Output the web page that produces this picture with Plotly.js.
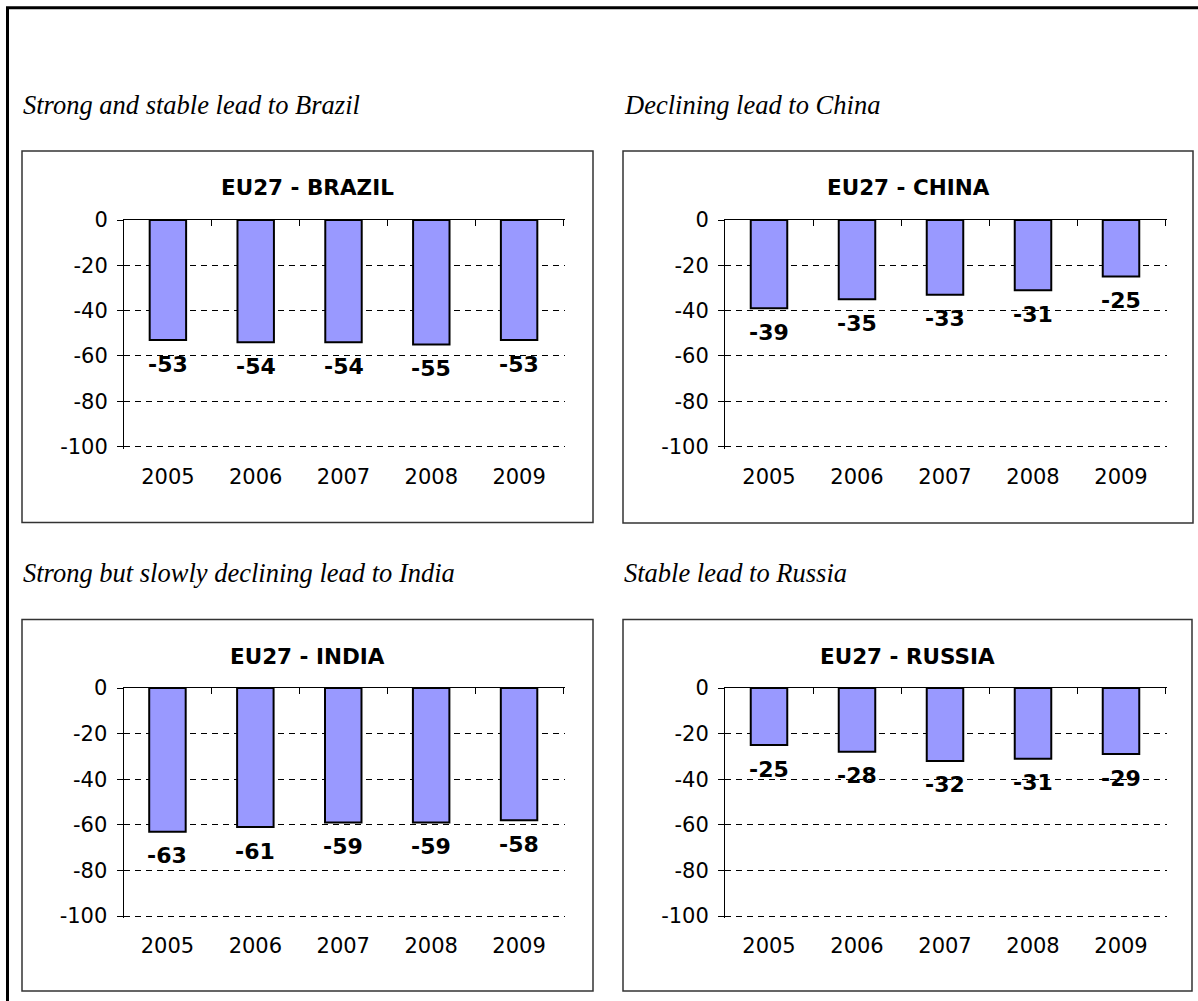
<!DOCTYPE html>
<html>
<head>
<meta charset="utf-8">
<script src="https://cdn.plot.ly/plotly-3.0.1.min.js"></script>
<style>html,body{margin:0;padding:0;background:#fff;}#chart{width:1198px;height:1001px;}</style>
</head>
<body>
<div id="chart"></div>
<script>
// ---- data ----
const years = ['2005', '2006', '2007', '2008', '2009'];
const brazil = [-53, -54, -54, -55, -53];
const china = [-39, -35, -33, -31, -25];
const india = [-63, -61, -59, -59, -58];
const russia = [-25, -28, -32, -31, -29];
const chartTitles = ['EU27 - BRAZIL', 'EU27 - CHINA', 'EU27 - INDIA', 'EU27 - RUSSIA'];
const captions = ['Strong and stable lead to Brazil', 'Declining lead to China',
                  'Strong but slowly declining lead to India', 'Stable lead to Russia'];
const yTicks = [0, -20, -40, -60, -80, -100];
const yTickLabels = ['0', '-20', '-40', '-60', '-80', '-100'];

// ---- layout helpers ----
const W = 1198, H = 1001;
const px = x => x / W;
const py = y => 1 - y / H;

const series = [brazil, china, india, russia];
// panel boxes [x0, y0, x1, y1] in pixels, plot areas [x0, y0(top), x1, y1(bottom)]
const panels = [[22, 151, 593, 522.5], [623, 151, 1193, 523], [22, 619.5, 593, 991], [623, 619.5, 1192, 991]];
const plots = [[124, 220, 563, 446.5], [725, 220, 1165, 446.5], [123.5, 688, 563, 916], [725, 688, 1165, 916]];
const capPos = [[21, 105], [622, 105], [21, 573], [622, 573]];
const XR = [-0.5, 4.52];   // tiny overshoot so the last boundary tick is kept
const YR = [-101, 0];      // tiny overshoot so the -100 grid line is kept

const FONT = 'DejaVu Sans, Verdana, sans-serif';
const data = [];
const layout = {
  width: W, height: H,
  margin: {l: 0, r: 0, t: 0, b: 0},
  paper_bgcolor: '#fff', plot_bgcolor: '#fff',
  showlegend: false,
  font: {family: FONT, color: '#000', size: 21},
  shapes: [], annotations: []
};

// outer frame (top and left visible)
layout.shapes.push({type: 'rect', xref: 'paper', yref: 'paper',
  x0: px(7.5), x1: 1.05, y0: -0.05, y1: py(7.7),
  line: {color: '#000', width: 3}, fillcolor: 'rgba(0,0,0,0)', layer: 'below'});

series.forEach((vals, i) => {
  const n = i + 1;
  const sfx = n === 1 ? '' : String(n);
  const xa = 'x' + sfx, ya = 'y' + sfx, xl = 'x' + (n + 4);
  const p = plots[i], b = panels[i];
  const catW = (p[2] - p[0]) / 5;
  const x1 = p[2] + (XR[1] - 4.5) * catW;
  const hPer = (p[3] - p[1]) / 100;
  const y1 = p[3] + (-100 - YR[0]) * hPer;

  data.push({type: 'bar', x: years, y: vals, xaxis: xa, yaxis: ya, width: 0.415,
    marker: {color: '#9999FF', line: {color: '#000', width: 2}},
    hoverinfo: 'skip'});
  // carrier trace for the category-label axis (draws nothing)
  data.push({type: 'scatter', mode: 'none', x: years, y: vals, xaxis: xl, yaxis: ya, hoverinfo: 'skip'});

  // top axis at y = 0 with boundary ticks pointing into the plot
  layout['xaxis' + sfx] = {domain: [px(p[0]), px(x1)], anchor: ya, type: 'category', side: 'top',
    range: XR, showline: true, linecolor: '#000', linewidth: 1,
    ticks: 'inside', tickson: 'boundaries', ticklen: 6, tickcolor: '#000', tickwidth: 1,
    showticklabels: false, showgrid: false, zeroline: false, fixedrange: true};
  // bottom category labels
  layout['xaxis' + (n + 4)] = {overlaying: xa, anchor: ya, side: 'bottom', type: 'category',
    range: XR, showline: false, ticks: '', showgrid: false, zeroline: false,
    tickfont: {family: FONT, size: 21, color: '#000'}, ticklabelstandoff: 13, fixedrange: true};
  layout['yaxis' + sfx] = {domain: [py(y1), py(p[1])], anchor: xa, range: YR,
    tickmode: 'array', tickvals: yTicks, ticktext: yTickLabels, ticks: 'outside', ticklen: 6, tickcolor: '#000',
    showline: true, linecolor: '#000', linewidth: 1, showgrid: true, gridcolor: '#000',
    gridwidth: 1, griddash: '6px,5px', zeroline: false, ticklabelstandoff: 5,
    tickfont: {family: FONT, size: 21, color: '#000'}, fixedrange: true};

  // panel frame
  layout.shapes.push({type: 'rect', xref: 'paper', yref: 'paper',
    x0: px(b[0]), x1: px(b[2]), y0: py(b[3]), y1: py(b[1]),
    line: {color: '#333', width: 1.5}, fillcolor: 'rgba(0,0,0,0)', layer: 'below'});
  // chart title
  layout.annotations.push({xref: 'paper', yref: 'paper', x: px((b[0] + b[2]) / 2), y: py(b[1] + 37),
    xanchor: 'center', yanchor: 'middle', showarrow: false, text: '<b>' + chartTitles[i] + '</b>',
    font: {family: FONT, size: 21.5, color: '#000'}});
  // caption
  layout.annotations.push({xref: 'paper', yref: 'paper', x: px(capPos[i][0]), y: py(capPos[i][1]),
    xanchor: 'left', yanchor: 'middle', showarrow: false, text: '<i>' + captions[i] + '</i>',
    font: {family: 'Liberation Serif, Times New Roman, serif', size: 26.5, color: '#000'}});
  // data labels
  vals.forEach((v, k) => {
    layout.annotations.push({xref: xa, yref: ya, x: k, y: v, yshift: -24,
      xanchor: 'center', yanchor: 'middle', showarrow: false, text: '<b>' + String(v) + '</b>',
      font: {family: FONT, size: 22, color: '#000'}});
  });
});

Plotly.newPlot('chart', data, layout, {displayModeBar: false, staticPlot: true});
</script>
</body>
</html>
